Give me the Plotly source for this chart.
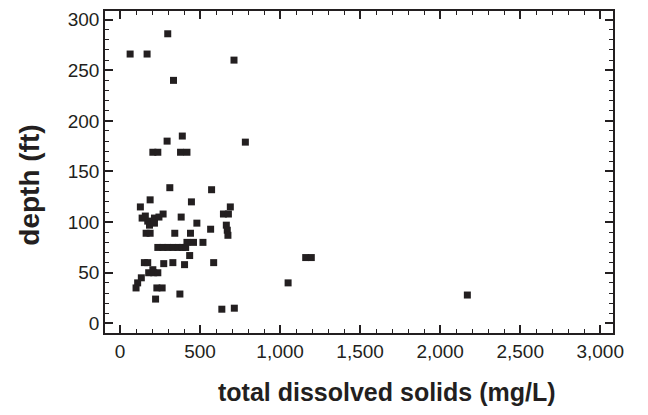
import plotly.graph_objects as go

# total dissolved solids (mg/L)
tds = [63, 169, 298, 712, 334,
       389, 294, 783, 205, 236, 378, 418,
       311, 572, 188, 446, 127, 689, 646, 677, 269,
       138, 173, 215, 243, 184, 215, 158,
       382, 480, 664, 670, 566, 163, 188, 342, 440, 674,
       236, 268, 299, 331, 362, 389, 410,
       418, 459, 518, 435,
       152, 173, 273, 330, 403, 585,
       205, 179, 210, 236, 133, 110, 100, 230, 263,
       222, 374, 1050, 636, 714, 1160, 1195, 2170]
# depth (ft)
depth = [266, 266, 286, 260, 240,
         185, 180, 179, 169, 169, 169, 169,
         134, 132, 122, 120, 115, 115, 108, 108, 108,
         104, 101, 104, 105, 97, 99, 106,
         105, 99, 97, 92, 93, 89, 89, 89, 89, 87,
         75, 75, 75, 75, 75, 75, 75,
         80, 80, 80, 67,
         60, 60, 59, 60, 58, 60,
         53, 50, 50, 50, 45, 40, 35, 35, 35,
         24, 29, 40, 14, 15, 65, 65, 28]

x_ticks = [0, 500, 1000, 1500, 2000, 2500, 3000]
y_ticks = [0, 50, 100, 150, 200, 250, 300]
x_title = "total dissolved solids (mg/L)"
y_title = "depth (ft)"

ink = "#231f20"
font_family = "Liberation Sans, Arial, sans-serif"

fig = go.Figure(go.Scatter(
    x=tds, y=depth, mode="markers",
    marker=dict(symbol="square", size=7, color=ink, line=dict(width=0)),
))

axis_common = dict(
    showgrid=False, zeroline=False, showline=True, linecolor=ink, linewidth=1.5,
    mirror="ticks", ticks="inside", ticklen=8, tickwidth=1.5, tickcolor=ink,
    tickfont=dict(family=font_family, size=19, color=ink),
)

fig.update_layout(
    width=648, height=415,
    margin=dict(l=105, r=35, t=9, b=82),
    paper_bgcolor="white", plot_bgcolor="white",
    showlegend=False,
    xaxis=dict(
        range=[-94, 3080], tickvals=x_ticks, tickformat=",d",
        minor=dict(dtick=100, tick0=0, ticks="inside", ticklen=4, tickwidth=1.2, tickcolor=ink),
        **axis_common,
    ),
    yaxis=dict(
        range=[-9.5, 308.5], tickvals=y_ticks,
        minor=dict(dtick=10, tick0=0, ticks="inside", ticklen=4, tickwidth=1.2, tickcolor=ink),
        **axis_common,
    ),
    annotations=[
        dict(text="<b>" + x_title + "</b>", xref="paper", yref="paper",
             x=0.555, y=-0.182, xanchor="center", yanchor="middle", showarrow=False,
             font=dict(family=font_family, size=25, color=ink)),
        dict(text="<b>" + y_title + "</b>", xref="paper", yref="paper",
             x=-0.148, y=0.46, xanchor="center", yanchor="middle", showarrow=False,
             textangle=-90, font=dict(family=font_family, size=28, color=ink)),
    ],
)

fig.write_html("out.html", config={"displayModeBar": False},
               post_script="document.body.style.margin='0';")
